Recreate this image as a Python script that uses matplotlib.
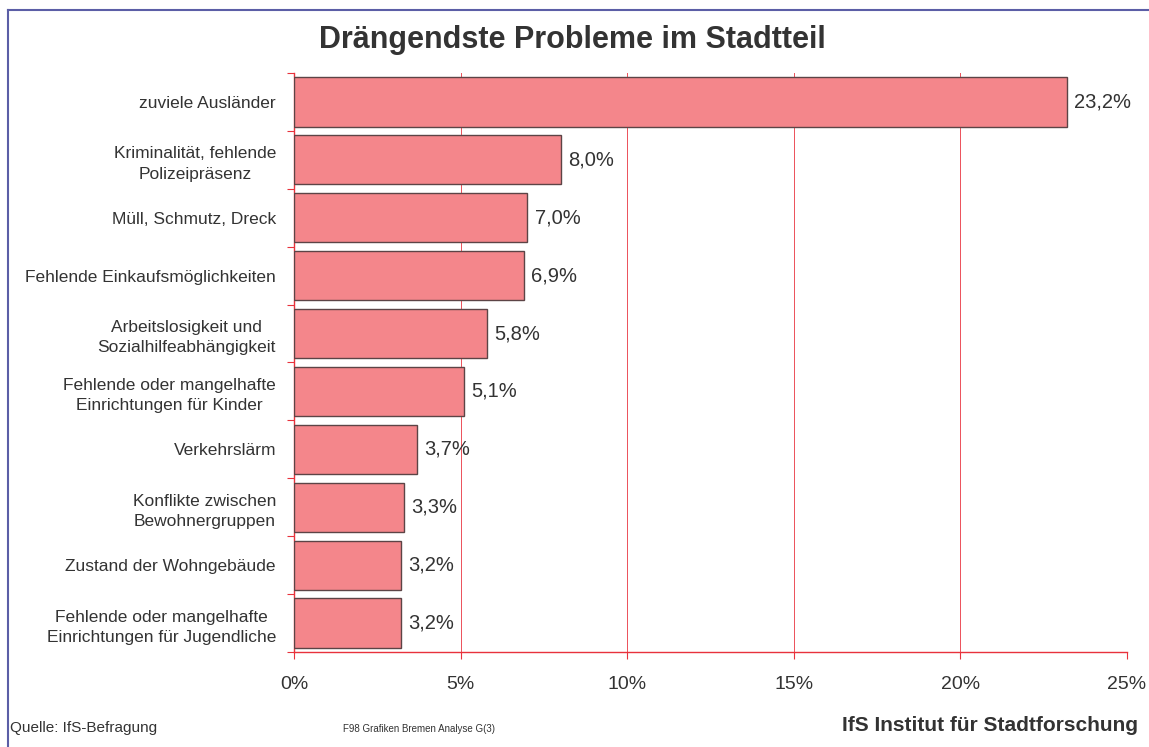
import matplotlib.pyplot as plt
import numpy as np
from matplotlib.lines import Line2D

plt.rcParams['font.family'] = ['Liberation Sans', 'DejaVu Sans']

categories = [
    "zuviele Ausländer",
    "Kriminalität, fehlende\nPolizeipräsenz",
    "Müll, Schmutz, Dreck",
    "Fehlende Einkaufsmöglichkeiten",
    "Arbeitslosigkeit und\nSozialhilfeabhängigkeit",
    "Fehlende oder mangelhafte\nEinrichtungen für Kinder",
    "Verkehrslärm",
    "Konflikte zwischen\nBewohnergruppen",
    "Zustand der Wohngebäude",
    "Fehlende oder mangelhafte\nEinrichtungen für Jugendliche",
]
values = [23.2, 8.0, 7.0, 6.9, 5.8, 5.1, 3.7, 3.3, 3.2, 3.2]
value_labels = ["23,2%", "8,0%", "7,0%", "6,9%", "5,8%", "5,1%", "3,7%", "3,3%", "3,2%", "3,2%"]
xticks = [0, 5, 10, 15, 20, 25]

red = '#e8323c'
text_col = '#333333'

fig = plt.figure(figsize=(11.49, 7.47), dpi=100)
ax = fig.add_axes([0.2559, 0.1272, 0.725, 0.7751])

y = np.arange(len(categories))
ax.barh(y, values, height=0.85, color='#f4868b', edgecolor='#5c4446', linewidth=1.0, zorder=3)

for yi, v, lab in zip(y, values, value_labels):
    ax.text(v + 0.22, yi, lab, va='center', ha='left', fontsize=14.5, color=text_col)

ax.set_xlim(0, 25)
ax.set_ylim(len(categories) - 0.5, -0.5)
ax.set_xticks(xticks)
ax.set_xticklabels([f"{t}%" for t in xticks], fontsize=14, color=text_col)
ax.set_yticks(np.arange(len(categories) + 1) - 0.5)
ax.set_yticklabels([])
ax.set_yticks(y, minor=True)
ax.set_yticklabels(categories, minor=True, fontsize=12.5, color=text_col, ha='right',
                   multialignment='center', linespacing=1.45)
ax.tick_params(axis='y', which='minor', length=0, pad=13)
ax.tick_params(axis='y', which='major', length=5, color=red, direction='out')
ax.tick_params(axis='x', length=5, color=red, direction='out', pad=12)

for s in ['top', 'right']:
    ax.spines[s].set_visible(False)
for s in ['left', 'bottom']:
    ax.spines[s].set_color(red)
    ax.spines[s].set_linewidth(1.0)
for t in xticks[1:-1]:
    ax.axvline(t, color=red, linewidth=0.7, alpha=0.85, zorder=1)

fig.text(0.498, 0.946, "Drängendste Probleme im Stadtteil", ha='center', va='center',
         fontsize=22, fontweight='bold', color=text_col)
fig.text(0.009, 0.016, "Quelle: IfS-Befragung", ha='left', va='bottom', fontsize=11, color=text_col)
fig.text(0.365, 0.018, "F98 Grafiken Bremen Analyse G(3)", ha='center', va='bottom', fontsize=7, color=text_col)
fig.text(0.99, 0.016, "IfS Institut für Stadtforschung", ha='right', va='bottom', fontsize=15,
         fontweight='bold', color=text_col)

blue = '#5b5ea6'
fig.add_artist(Line2D([0.007, 1.0], [0.987, 0.987], transform=fig.transFigure, color=blue, linewidth=1.5))
fig.add_artist(Line2D([0.007, 0.007], [0.0, 0.987], transform=fig.transFigure, color=blue, linewidth=1.5))

fig.savefig('out.png', dpi=100)
